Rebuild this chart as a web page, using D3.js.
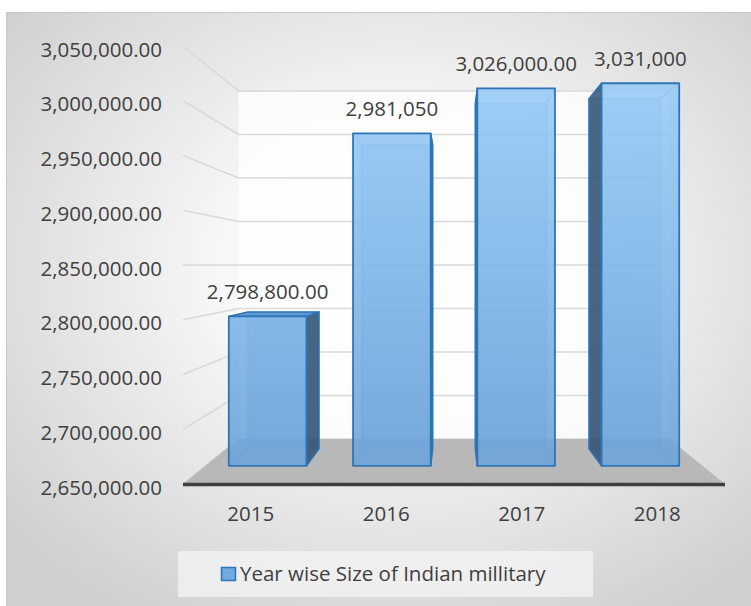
<!DOCTYPE html>
<html>
<head>
<meta charset="utf-8">
<script src="https://cdn.jsdelivr.net/npm/d3@7/dist/d3.min.js"></script>
<style>
  html, body { margin: 0; padding: 0; background: #fff; }
  svg text { font-family: "Open Sans", sans-serif; fill: #404040; }
</style>
</head>
<body>
<div id="chart"></div>
<script>
const years = ['2015', '2016', '2017', '2018'];
const militarySize = [2798800, 2981050, 3026000, 3031000];
const valueLabels = ['2,798,800.00', '2,981,050', '3,026,000.00', '3,031,000'];
const yTicks = [2650000, 2700000, 2750000, 2800000, 2850000, 2900000, 2950000, 3000000, 3050000];
const seriesName = 'Year wise Size of Indian millitary';

const width = 751, height = 606;

const svg = d3.select('#chart')
    .append('svg')
    .attr('width', width)
    .attr('height', height);

const defs = svg.append('defs');

// chart area background: white centre fading to grey edges
const bg = defs.append('radialGradient')
    .attr('id', 'bgGrad')
    .attr('cx', '52%').attr('cy', '42%').attr('r', '68%');
bg.append('stop').attr('offset', '0%').attr('stop-color', '#ffffff');
bg.append('stop').attr('offset', '35%').attr('stop-color', '#f7f7f7');
bg.append('stop').attr('offset', '100%').attr('stop-color', '#cfcfcf');

const barGrad = defs.append('linearGradient')
    .attr('id', 'barGrad')
    .attr('gradientUnits', 'userSpaceOnUse')
    .attr('x1', 0).attr('y1', 80).attr('x2', 0).attr('y2', 470);
barGrad.append('stop').attr('offset', '0%').attr('stop-color', '#97cbf7');
barGrad.append('stop').attr('offset', '100%').attr('stop-color', '#6aa2d8');

svg.append('rect')
    .attr('x', 6.5).attr('y', 12.5)
    .attr('width', width).attr('height', height)
    .attr('fill', 'url(#bgGrad)')
    .attr('stroke', '#c8c8c8');

const x = d3.scaleBand()
    .domain(years)
    .range([183, 725])
    .paddingInner(0.375)
    .paddingOuter(0.1875);

const y = d3.scaleLinear()
    .domain([2650000, 3050000])
    .range([484, 46]);

// simple perspective: depth factor s shrinks points toward the eye point
const vx = (x.range()[0] + x.range()[1]) / 2;
const vy = y(2850000);
const wallDepth = 0.795;
const barFront = 0.917;
const barBack = 0.839;

function project(px, py, s) {
    return [vx + (px - vx) * s, vy + (py - vy) * s];
}
const line = d3.line();

const g = svg.append('g');

// back wall
const wTL = project(x.range()[0], y(yTicks[yTicks.length - 1]), wallDepth);
const wBR = project(x.range()[1], y(yTicks[0]), wallDepth);
g.append('rect')
    .attr('x', wTL[0]).attr('y', wTL[1])
    .attr('width', wBR[0] - wTL[0]).attr('height', wBR[1] - wTL[1])
    .attr('fill', '#ffffff').attr('opacity', 0.75);

// gridlines: side wall segment + back wall segment
yTicks.forEach(t => {
    const f = [x.range()[0], y(t)];
    const b = project(x.range()[0], y(t), wallDepth);
    const br = project(x.range()[1], y(t), wallDepth);
    g.append('path')
        .attr('d', line([f, b, br]))
        .attr('fill', 'none')
        .attr('stroke', '#d9d9d9')
        .attr('stroke-width', 1.5);
});

// floor
const base = y.domain()[0];
const floorPts = [
    [x.range()[0], y(base)],
    [x.range()[1], y(base)],
    project(x.range()[1], y(base), wallDepth),
    project(x.range()[0], y(base), wallDepth)
];
g.append('path')
    .attr('d', line(floorPts) + 'Z')
    .attr('fill', '#b8b8b8');
g.append('line')
    .attr('x1', x.range()[0]).attr('x2', x.range()[1])
    .attr('y1', y(base) + 0.5).attr('y2', y(base) + 0.5)
    .attr('stroke', '#3f3f3f')
    .attr('stroke-width', 3.5);

// y axis labels
const fmt = d3.format(',.2f');
svg.selectAll('.ylab')
    .data(yTicks)
    .enter()
    .append('text')
    .attr('class', 'ylab')
    .attr('x', 162)
    .attr('y', d => y(d) + 10.5)
    .attr('text-anchor', 'end')
    .style('font-size', '20.5px')
    .text(d => fmt(d));

// x axis labels
svg.selectAll('.xlab')
    .data(years)
    .enter()
    .append('text')
    .attr('class', 'xlab')
    .attr('x', d => x(d) + x.bandwidth() / 2)
    .attr('y', 521)
    .attr('text-anchor', 'middle')
    .style('font-size', '20.5px')
    .text(d => d);

// bars as translucent boxes
militarySize.forEach((v, i) => {
    const x0 = x(years[i]);
    const x1 = x0 + x.bandwidth();
    const yt = y(v);
    const yb = y(base);
    const fTL = project(x0, yt, barFront), fTR = project(x1, yt, barFront);
    const fBR = project(x1, yb, barFront), fBL = project(x0, yb, barFront);
    const bTL = project(x0, yt, barBack), bTR = project(x1, yt, barBack);
    const bBR = project(x1, yb, barBack), bBL = project(x0, yb, barBack);

    const bar = g.append('g');

    // back face, seen through the front
    bar.append('path')
        .attr('d', line([bTL, bTR, bBR, bBL]) + 'Z')
        .attr('fill', 'url(#barGrad)')
        .attr('opacity', 0.45);

    // hidden edges
    [[bTL, bTR], [bTR, bBR], [bBR, bBL], [bBL, bTL], [fTL, bTL], [fTR, bTR], [fBR, bBR], [fBL, bBL]]
        .forEach(e => {
            bar.append('path')
                .attr('d', line(e))
                .attr('stroke', '#4a8fd0')
                .attr('stroke-opacity', 0.55)
                .attr('stroke-width', 1.2);
        });

    // visible side face
    let side = null;
    if (x0 > vx) side = [bTL, fTL, fBL, bBL];
    if (x1 < vx) side = [fTR, bTR, bBR, fBR];
    if (side) {
        bar.append('path')
            .attr('d', line(side) + 'Z')
            .attr('fill', '#2d4a6b')
            .attr('fill-opacity', 0.82)
            .attr('stroke', '#2e75b6')
            .attr('stroke-width', 1.5)
            .attr('stroke-linejoin', 'round');
    }
    // top face visible when below eye level
    if (yt > vy) {
        bar.append('path')
            .attr('d', line([bTL, bTR, fTR, fTL]) + 'Z')
            .attr('fill', '#4f8cc9')
            .attr('fill-opacity', 0.85)
            .attr('stroke', '#2e75b6')
            .attr('stroke-width', 1.5)
            .attr('stroke-linejoin', 'round');
    }

    // front face
    bar.append('path')
        .attr('d', line([fTL, fTR, fBR, fBL]) + 'Z')
        .attr('fill', 'url(#barGrad)')
        .attr('fill-opacity', 0.88)
        .attr('stroke', '#2e75b6')
        .attr('stroke-width', 1.8)
        .attr('stroke-linejoin', 'round');

    // data label
    svg.append('text')
        .attr('x', (fTL[0] + fTR[0]) / 2)
        .attr('y', fTL[1] - 17)
        .attr('text-anchor', 'middle')
        .style('font-size', '20.5px')
        .text(valueLabels[i]);
});

// legend
const legend = svg.append('g');
legend.append('rect')
    .attr('x', 178).attr('y', 551)
    .attr('width', 415).attr('height', 46)
    .attr('fill', '#f2f2f2')
    .attr('fill-opacity', 0.8);
legend.append('rect')
    .attr('x', 221.5).attr('y', 567.5)
    .attr('width', 14).attr('height', 13)
    .attr('fill', '#72a9de')
    .attr('stroke', '#2e75b6')
    .attr('stroke-width', 1.5);
legend.append('text')
    .attr('x', 240)
    .attr('y', 581)
    .style('font-size', '20.5px')
    .text(seriesName);
</script>
</body>
</html>
